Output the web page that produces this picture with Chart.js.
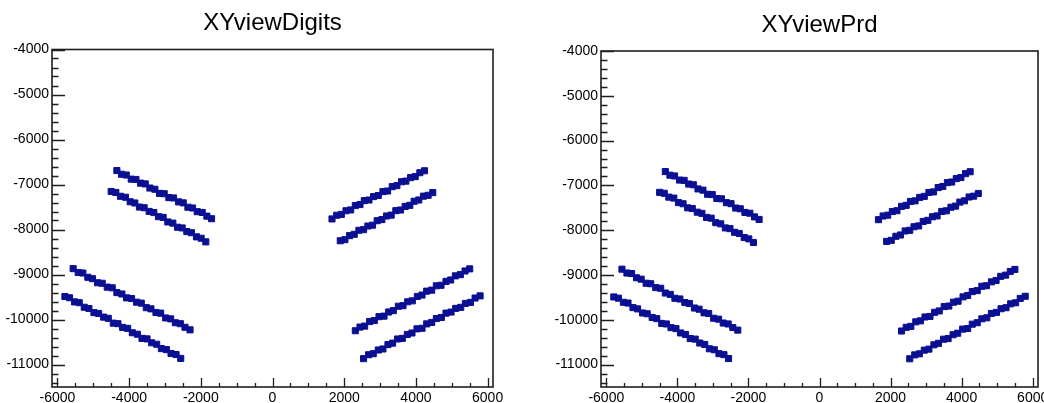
<!DOCTYPE html>
<html>
<head>
<meta charset="utf-8">
<script src="https://cdn.jsdelivr.net/npm/chart.js@4/dist/chart.umd.min.js"></script>
<style>
  body { margin: 0; background: #fff; overflow: hidden; }
  .wrap { width: 1044px; height: 403px; position: relative; }
  canvas { position: absolute; top: 0; }
</style>
</head>
<body>
<div class="wrap">
  <canvas id="digits" width="522" height="403" style="left:0"></canvas>
  <canvas id="prd" width="522" height="403" style="left:522px"></canvas>
</div>
<script>
// hits, [x, y] in mm; both views show the same tracks
// upper left pair
const bandA = [[-4340,-6690],[-4210,-6772],[-4080,-6789],[-3940,-6881],[-3810,-6888],[-3680,-6970],[-3550,-6987],
  [-3420,-7079],[-3280,-7106],[-3150,-7198],[-3020,-7205],[-2890,-7292],[-2760,-7299],[-2620,-7386],[-2490,-7408],
  [-2360,-7505],[-2230,-7522],[-2100,-7604],[-1960,-7621],[-1830,-7703],[-1700,-7760]];
const bandB = [[-4500,-7155],[-4370,-7176],[-4240,-7262],[-4100,-7283],[-3970,-7384],[-3840,-7410],[-3710,-7501],
  [-3580,-7517],[-3440,-7598],[-3310,-7624],[-3180,-7715],[-3050,-7731],[-2920,-7832],[-2780,-7858],[-2650,-7949],
  [-2520,-7965],[-2390,-8046],[-2260,-8072],[-2120,-8163],[-1990,-8194],[-1860,-8275]];
// lower left pair
const bandC = [[-5560,-8870],[-5420,-8956],[-5290,-8967],[-5150,-9062],[-5020,-9093],[-4880,-9184],[-4750,-9195],
  [-4610,-9281],[-4470,-9296],[-4340,-9402],[-4200,-9433],[-4070,-9519],[-3930,-9535],[-3790,-9615],[-3660,-9636],
  [-3520,-9737],[-3390,-9763],[-3250,-9844],[-3120,-9859],[-2980,-9965],[-2840,-9986],[-2710,-10072],[-2570,-10093],
  [-2440,-10173],[-2300,-10230]];
const bandD = [[-5790,-9490],[-5660,-9517],[-5520,-9609],[-5390,-9626],[-5250,-9728],[-5120,-9756],[-4980,-9848],
  [-4850,-9865],[-4710,-9947],[-4580,-9974],[-4440,-10081],[-4310,-10093],[-4180,-10175],[-4040,-10197],[-3910,-10294],
  [-3770,-10327],[-3640,-10419],[-3500,-10431],[-3370,-10518],[-3230,-10550],[-3100,-10647],[-2960,-10669],
  [-2830,-10756],[-2690,-10778],[-2560,-10865]];
// upper right pair
const bandE = [[1660,-7765],[1790,-7683],[1920,-7665],[2050,-7583],[2180,-7565],[2310,-7468],[2440,-7445],
  [2560,-7358],[2690,-7345],[2820,-7268],[2950,-7245],[3080,-7158],[3210,-7145],[3340,-7048],[3470,-7025],
  [3600,-6938],[3720,-6925],[3850,-6848],[3980,-6825],[4110,-6738],[4240,-6695]];
const bandF = [[1890,-8250],[2020,-8226],[2150,-8136],[2280,-8107],[2410,-8017],[2540,-8003],[2660,-7923],
  [2790,-7904],[2920,-7804],[3050,-7780],[3180,-7700],[3310,-7681],[3440,-7581],[3570,-7567],[3700,-7487],
  [3830,-7463],[3950,-7373],[4080,-7344],[4210,-7259],[4340,-7240],[4470,-7180]];
// lower right pair
const bandG = [[2310,-10250],[2440,-10168],[2570,-10147],[2710,-10045],[2840,-10023],[2970,-9937],[3110,-9925],
  [3240,-9833],[3370,-9802],[3510,-9705],[3640,-9693],[3770,-9607],[3900,-9585],[4040,-9488],[4170,-9457],
  [4300,-9370],[4440,-9348],[4570,-9251],[4700,-9240],[4840,-9153],[4970,-9122],[5100,-9030],[5240,-9003],
  [5370,-8922],[5500,-8875]];
const bandH = [[2540,-10870],[2680,-10783],[2810,-10760],[2950,-10678],[3080,-10655],[3220,-10558],[3350,-10525],
  [3490,-10433],[3620,-10420],[3760,-10333],[3890,-10300],[4030,-10208],[4170,-10195],[4300,-10098],[4440,-10065],
  [4570,-9978],[4710,-9955],[4840,-9858],[4980,-9835],[5110,-9753],[5250,-9730],[5380,-9643],[5520,-9620],
  [5650,-9523],[5790,-9475]];

const bands = [bandA, bandB, bandC, bandD, bandE, bandF, bandG, bandH];

const xTicks = [-6000, -4000, -2000, 0, 2000, 4000, 6000];
const yTicks = [-11000, -10000, -9000, -8000, -7000, -6000, -5000, -4000];

const markColor = '#0b0f92';
const labelFont = { family: 'Liberation Sans', size: 14 };

// ROOT style frame with ticks pointing into the pad
const rootFrame = {
  id: 'rootFrame',
  afterDatasetsDraw(chart) {
    const { ctx, chartArea: a, scales: { x, y } } = chart;
    ctx.save();
    ctx.strokeStyle = '#1e1e1e';
    ctx.lineWidth = 1.6;
    ctx.strokeRect(a.left, a.top, a.right - a.left, a.bottom - a.top);
    ctx.lineWidth = 1.3;
    ctx.beginPath();
    for (let v = -6000; v <= 6000; v += 500) {
      const px = Math.round(x.getPixelForValue(v)) + 0.5;
      const len = v % 2000 === 0 ? 9 : 4;
      ctx.moveTo(px, a.bottom);
      ctx.lineTo(px, a.bottom - len);
    }
    for (let v = -11400; v <= -4000; v += 200) {
      const py = Math.round(y.getPixelForValue(v)) + 0.5;
      const len = v % 1000 === 0 ? 13 : 6.5;
      ctx.moveTo(a.left, py);
      ctx.lineTo(a.left + len, py);
    }
    ctx.stroke();
    ctx.restore();
  }
};

function makeView(id, title, pad, titlePad) {
  new Chart(document.getElementById(id), {
    type: 'scatter',
    data: {
      datasets: bands.map(b => ({
        data: b.map(p => ({ x: p[0], y: p[1] })),
        pointStyle: 'rect',
        pointRadius: 4.3,
        borderWidth: 1,
        backgroundColor: markColor,
        borderColor: markColor
      }))
    },
    options: {
      responsive: false,
      animation: false,
      events: [],
      layout: { padding: pad },
      plugins: {
        legend: { display: false },
        tooltip: { enabled: false },
        title: {
          display: true,
          text: title,
          fullSize: false,
          color: '#000',
          font: { family: 'Liberation Sans', size: 24, weight: 'normal' },
          padding: titlePad
        }
      },
      scales: {
        x: {
          type: 'linear',
          min: -6150,
          max: 6150,
          afterBuildTicks: s => { s.ticks = xTicks.map(v => ({ value: v })); },
          afterFit: s => { s.height = 16; s.paddingLeft = 0; s.paddingRight = 0; },
          grid: { display: false, drawTicks: false },
          border: { display: false },
          ticks: { color: '#000', font: labelFont, padding: 3, maxRotation: 0, autoSkip: false,
                   callback: v => String(v) }
        },
        y: {
          type: 'linear',
          min: -11500,
          max: -4000,
          afterBuildTicks: s => { s.ticks = yTicks.map(v => ({ value: v })); },
          afterFit: s => { s.width = 52; s.paddingTop = 0; s.paddingBottom = 0; },
          grid: { display: false, drawTicks: false },
          border: { display: false },
          ticks: { color: '#000', font: labelFont, padding: 3, autoSkip: false,
                   callback: v => String(v) }
        }
      }
    },
    plugins: [rootFrame]
  });
}

makeView('digits', 'XYviewDigits', { left: 0, right: 29, top: 0, bottom: 0 }, { top: 8.6, bottom: 12.1 });
makeView('prd', 'XYviewPrd', { left: 27, right: 6, top: 0, bottom: 0 }, { top: 11, bottom: 11.2 });
</script>
</body>
</html>
